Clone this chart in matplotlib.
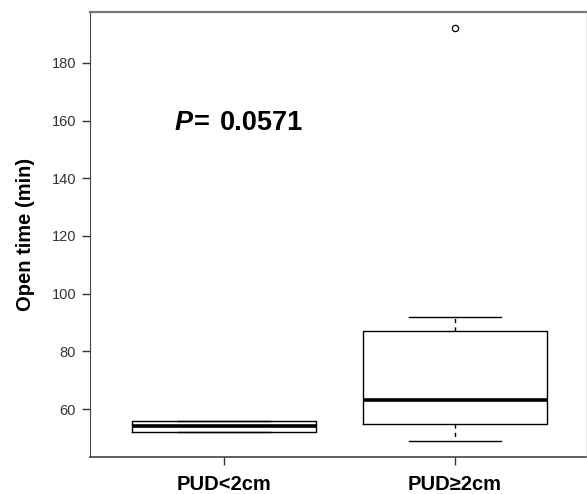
import matplotlib
matplotlib.use("Agg")
import matplotlib.pyplot as plt

plt.rcParams['font.family'] = ['Liberation Sans', 'DejaVu Sans']

# summary values (minutes)
groups = ['PUD<2cm', 'PUD≥2cm']
q1 = [52, 55]
median = [54, 63]
q3 = [56, 87]
whisker_low = [52, 49]
whisker_high = [56, 92]
outliers = [[], [192]]
p_value = '0.0571'

stats = []
for i, name in enumerate(groups):
    stats.append({
        'label': name,
        'q1': q1[i], 'med': median[i], 'q3': q3[i],
        'whislo': whisker_low[i], 'whishi': whisker_high[i],
        'fliers': outliers[i],
    })

fig = plt.figure(figsize=(5.87, 4.94), dpi=100)
ax = fig.add_axes([90 / 587, 37 / 494, 496 / 587, 445 / 494])

ax.bxp(stats, positions=[1, 2], widths=0.8, patch_artist=False,
       boxprops=dict(color='black', linewidth=1.0),
       medianprops=dict(color='black', linewidth=2.6),
       whiskerprops=dict(color='black', linewidth=1.0, linestyle=(0, (3, 3))),
       capprops=dict(color='black', linewidth=1.0),
       capwidths=0.4,
       flierprops=dict(marker='o', markersize=4.5, markerfacecolor='white',
                       markeredgecolor='black', markeredgewidth=0.9))

ax.set_xlim(0.42, 2.567)
ax.set_ylim(43.4, 197.6)
ax.set_yticks([60, 80, 100, 120, 140, 160, 180])
ax.set_xticks([1, 2])
ax.set_xticklabels(groups, fontsize=14.5, fontweight='bold', color='black')
ax.tick_params(axis='y', direction='out', length=6, width=1, colors='#333333',
               labelsize=10.5, pad=4)
ax.tick_params(axis='x', direction='out', length=6, width=1, colors='#333333',
               pad=7)
for lab in ax.get_xticklabels():
    lab.set_color('black')

ax.set_ylabel('Open time (min)', fontsize=14.5, fontweight='bold', labelpad=12)

ax.spines['left'].set_color('#444444')
ax.spines['bottom'].set_color('#444444')
ax.spines['top'].set_color('#777777')
ax.spines['top'].set_linewidth(1.6)
ax.spines['bottom'].set_linewidth(1.2)
ax.spines['right'].set_color('#eeeeee')

# P-value annotation: italic P, then "=", then the value
ax.text(0.788, 159.3, 'P', fontsize=19.5, fontweight='bold', fontstyle='italic',
        va='center', ha='left')
ax.annotate('=', xy=(0.788, 159.3), xytext=(13.5, 0), textcoords='offset points',
            fontsize=19.5, fontweight='bold', va='center', ha='left')
ax.annotate(p_value, xy=(0.788, 159.3), xytext=(32, 0), textcoords='offset points',
            fontsize=19.5, fontweight='bold', va='center', ha='left')

fig.savefig('out.png', dpi=100)
